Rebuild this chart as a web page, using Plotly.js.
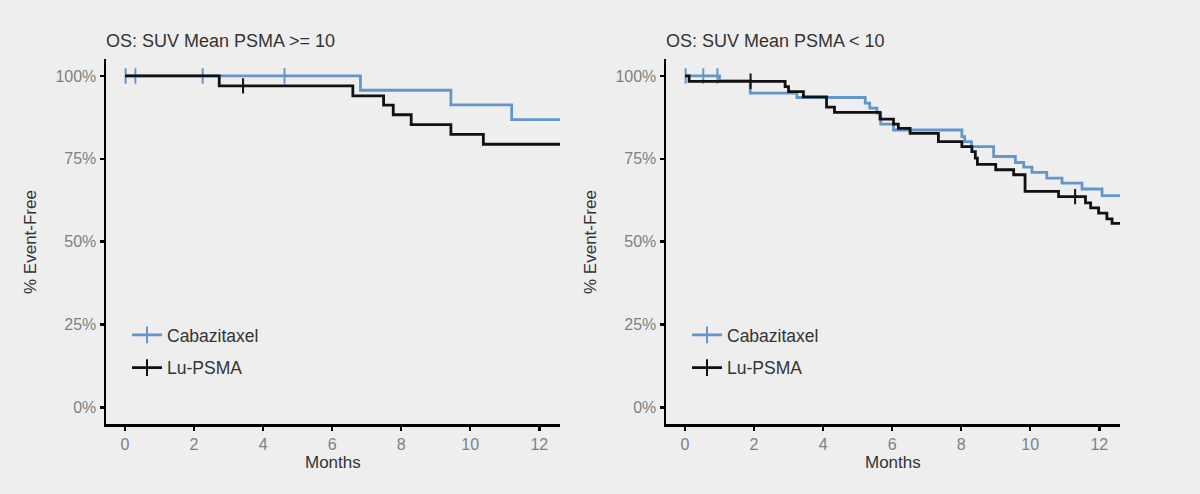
<!DOCTYPE html>
<html>
<head>
<meta charset="utf-8">
<script src="https://cdn.plot.ly/plotly-3.0.1.min.js"></script>
<style>
  html, body { margin: 0; padding: 0; background: #eeeeee; }
  #chart { width: 1200px; height: 494px; }
</style>
</head>
<body>
<div id="chart"></div>
<script>
// Overall survival (Kaplan-Meier), Cabazitaxel vs Lu-PSMA, split by mean PSMA SUV.
// Step curves: each value holds from its time until the next time.

// ---- Panel 1: SUV mean PSMA >= 10 ----
const hiCabaMonths = [0, 6.82, 9.44, 11.2, 12.62];
const hiCabaSurv   = [100, 95.7, 91.3, 86.8, 86.8];
const hiCabaCensor = [0.02, 0.3, 2.25, 4.62];

const hiLuMonths = [0, 2.73, 6.6, 7.49, 7.77, 8.29, 9.44, 10.38, 12.62];
const hiLuSurv   = [100, 97.0, 94.0, 91.2, 88.3, 85.3, 82.4, 79.4, 79.4];
const hiLuCensor = [3.42];

// ---- Panel 2: SUV mean PSMA < 10 ----
const loCabaMonths = [0, 1.0, 1.89, 3.24, 5.22, 5.35, 5.56, 5.67, 6.04, 8.02, 8.1, 8.3, 8.94,
                      9.57, 9.81, 10.05, 10.48, 10.92, 11.5, 12.08, 12.62];
const loCabaSurv   = [100, 98.6, 94.8, 93.5, 91.8, 90.3, 88.8, 85.5, 83.7, 81.7, 80.2, 78.7, 75.7,
                      73.9, 72.5, 70.9, 69.2, 67.7, 65.9, 63.9, 63.9];
const loCabaCensor = [0.02, 0.53, 0.94];

const loLuMonths = [0, 0.12, 2.9, 3.0, 3.43, 4.1, 4.33, 5.65, 6.04, 6.18, 6.52, 7.34, 8.02, 8.31,
                    8.41, 8.47, 9.0, 9.52, 9.85, 10.82, 11.6, 11.75, 11.98, 12.22, 12.37, 12.62];
const loLuSurv   = [100, 98.4, 96.8, 95.3, 93.7, 90.6, 89.0, 87.0, 85.5, 84.2, 82.7, 80.2, 78.7, 77.2,
                    75.2, 73.3, 71.7, 70.2, 65.2, 63.6, 61.7, 60.2, 58.6, 56.9, 55.5, 55.5];
const loLuCensor = [1.9, 11.3];

const panelTitles = ['OS: SUV Mean PSMA &gt;= 10', 'OS: SUV Mean PSMA &lt; 10'];
const armNames = ['Cabazitaxel', 'Lu-PSMA'];
const monthTicks = [0, 2, 4, 6, 8, 10, 12];
const pctTicks = [0, 25, 50, 75, 100];
const pctLabels = ['0%', '25%', '50%', '75%', '100%'];

const BLUE = '#6397cc';
const BLACK = '#111111';
const FONT = 'Liberation Sans, Arial, Helvetica, sans-serif';

// survival value of a step curve at time t
function stepAt(times, surv, t) {
  let v = surv[0];
  for (let i = 0; i < times.length; i++) { if (times[i] <= t) v = surv[i]; }
  return v;
}

function curve(times, surv, color, xa, ya) {
  return {
    x: times, y: surv, xaxis: xa, yaxis: ya, type: 'scatter', mode: 'lines',
    line: { shape: 'hv', color: color, width: 2.8 }, showlegend: false, hoverinfo: 'skip'
  };
}
function censor(ct, times, surv, color, xa, ya) {
  return {
    x: ct, y: ct.map(t => stepAt(times, surv, t)), xaxis: xa, yaxis: ya,
    type: 'scatter', mode: 'markers',
    marker: { symbol: 'line-ns-open', size: 11, color: color, line: { color: color, width: 2 } },
    showlegend: false, hoverinfo: 'skip'
  };
}
function legendEntry(name, color, xa, ya, legendId, group) {
  return {
    x: [null], y: [null], xaxis: xa, yaxis: ya, type: 'scatter', mode: 'lines+markers',
    name: name, legend: legendId, legendgroup: group,
    line: { color: color, width: 2.8 },
    marker: { symbol: 'line-ns-open', size: 12, color: color, line: { color: color, width: 2 } }
  };
}

const traces = [
  curve(hiCabaMonths, hiCabaSurv, BLUE, 'x', 'y'),
  censor(hiCabaCensor, hiCabaMonths, hiCabaSurv, BLUE, 'x', 'y'),
  curve(hiLuMonths, hiLuSurv, BLACK, 'x', 'y'),
  censor(hiLuCensor, hiLuMonths, hiLuSurv, BLACK, 'x', 'y'),
  legendEntry(armNames[0], BLUE, 'x', 'y', 'legend', 'a1'),
  legendEntry(armNames[1], BLACK, 'x', 'y', 'legend', 'b1'),

  curve(loCabaMonths, loCabaSurv, BLUE, 'x2', 'y2'),
  censor(loCabaCensor, loCabaMonths, loCabaSurv, BLUE, 'x2', 'y2'),
  curve(loLuMonths, loLuSurv, BLACK, 'x2', 'y2'),
  censor(loLuCensor, loLuMonths, loLuSurv, BLACK, 'x2', 'y2'),
  legendEntry(armNames[0], BLUE, 'x2', 'y2', 'legend2', 'a2'),
  legendEntry(armNames[1], BLACK, 'x2', 'y2', 'legend2', 'b2')
];

const W = 1200, H = 494;
const yDomain = [(H - 424) / H, (H - 59.4) / H];

function xAxis(domain, anchor) {
  return {
    domain: domain, anchor: anchor, range: [-0.55, 12.6],
    tickmode: 'array', tickvals: monthTicks,
    showline: true, linecolor: '#000', linewidth: 2.5, mirror: false,
    ticks: 'outside', ticklen: 4, tickwidth: 2.5, tickcolor: '#000',
    tickfont: { family: FONT, size: 16, color: '#808080' },
    showgrid: false, zeroline: false, fixedrange: true
  };
}
function yAxis(anchor) {
  return {
    domain: yDomain, anchor: anchor, range: [-5, 105],
    tickmode: 'array', tickvals: pctTicks, ticktext: pctLabels,
    showline: true, linecolor: '#000', linewidth: 2.5,
    ticks: 'outside', ticklen: 4, tickwidth: 2.5, tickcolor: '#000',
    tickfont: { family: FONT, size: 16, color: '#808080' },
    showgrid: false, zeroline: false, fixedrange: true
  };
}

function legendBox(xPix, yPix) {
  return {
    x: xPix / W, y: (H - yPix) / H, xanchor: 'left', yanchor: 'top',
    bgcolor: 'rgba(0,0,0,0)', borderwidth: 0, tracegroupgap: 7,
    font: { family: FONT, size: 17.5, color: '#333333' }
  };
}

const textFont = { family: FONT, size: 17, color: '#333333' };
const annotations = [
  { text: panelTitles[0], x: 104 / W, y: (H - 41) / H, xanchor: 'left', yanchor: 'middle', font: Object.assign({}, textFont, { size: 18 }) },
  { text: panelTitles[1], x: 664 / W, y: (H - 41) / H, xanchor: 'left', yanchor: 'middle', font: Object.assign({}, textFont, { size: 18 }) },
  { text: 'Months', x: 333 / W, y: (H - 462) / H, xanchor: 'center', yanchor: 'middle' },
  { text: 'Months', x: 893 / W, y: (H - 462) / H, xanchor: 'center', yanchor: 'middle' },
  { text: '% Event-Free', x: 31 / W, y: (H - 242) / H, xanchor: 'center', yanchor: 'middle', textangle: -90 },
  { text: '% Event-Free', x: 591 / W, y: (H - 242) / H, xanchor: 'center', yanchor: 'middle', textangle: -90 }
].map(a => Object.assign({ xref: 'paper', yref: 'paper', showarrow: false, font: textFont }, a));

const layout = {
  width: W, height: H,
  margin: { l: 0, r: 0, t: 0, b: 0, pad: 0 },
  paper_bgcolor: '#eeeeee', plot_bgcolor: '#eeeeee',
  font: { family: FONT },
  xaxis: xAxis([106 / W, 560 / W], 'y'),
  yaxis: yAxis('x'),
  xaxis2: xAxis([666 / W, 1120 / W], 'y2'),
  yaxis2: yAxis('x2'),
  legend: legendBox(127, 317),
  legend2: legendBox(687, 317),
  annotations: annotations
};

Plotly.newPlot('chart', traces, layout, { displayModeBar: false, staticPlot: true });
</script>
</body>
</html>
